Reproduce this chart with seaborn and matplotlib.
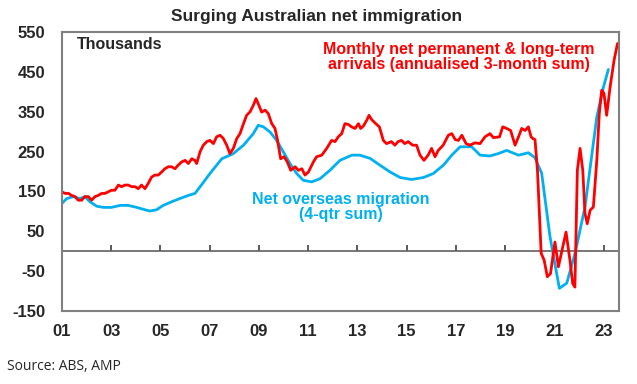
import pandas as pd
import matplotlib.pyplot as plt
import seaborn as sns

# monthly net permanent & long-term arrivals (annualised 3-month sum), thousands
red_year = [2001.0, 2001.13, 2001.27, 2001.39, 2001.53, 2001.66, 2001.8, 2001.93, 2002.07, 2002.2,
            2002.34, 2002.47, 2002.61, 2002.74, 2002.88, 2003.01, 2003.15, 2003.29, 2003.42, 2003.56,
            2003.69, 2003.83, 2003.96, 2004.1, 2004.23, 2004.37, 2004.5, 2004.64, 2004.77, 2004.91,
            2005.05, 2005.18, 2005.32, 2005.45, 2005.59, 2005.72, 2005.86, 2006.0, 2006.13, 2006.27,
            2006.4, 2006.47, 2006.61, 2006.74, 2006.88, 2007.01, 2007.15, 2007.28, 2007.42, 2007.55,
            2007.69, 2007.82, 2007.96, 2008.1, 2008.23, 2008.37, 2008.5, 2008.64, 2008.77, 2008.88,
            2008.97, 2009.11, 2009.25, 2009.38, 2009.52, 2009.65, 2009.74, 2009.88, 2010.02, 2010.15,
            2010.29, 2010.47, 2010.6, 2010.74, 2010.87, 2011.01, 2011.21, 2011.34, 2011.55, 2011.75,
            2011.95, 2012.09, 2012.22, 2012.36, 2012.49, 2012.63, 2012.76, 2012.9, 2013.04, 2013.13,
            2013.24, 2013.38, 2013.47, 2013.58, 2013.71, 2013.89, 2014.05, 2014.18, 2014.38, 2014.52,
            2014.65, 2014.79, 2014.92, 2015.06, 2015.24, 2015.4, 2015.54, 2015.7, 2015.87, 2016.01,
            2016.15, 2016.28, 2016.48, 2016.69, 2016.83, 2016.97, 2017.1, 2017.24, 2017.41, 2017.57,
            2017.77, 2017.98, 2018.18, 2018.38, 2018.52, 2018.77, 2018.9, 2019.06, 2019.22, 2019.4,
            2019.54, 2019.67, 2019.81, 2019.94, 2020.05, 2020.12, 2020.21, 2020.31, 2020.42, 2020.46,
            2020.58, 2020.71, 2020.84, 2021.02, 2021.16, 2021.47, 2021.63, 2021.74, 2021.83, 2021.93,
            2022.04, 2022.15, 2022.24, 2022.33, 2022.45, 2022.58, 2022.72, 2022.82, 2022.92, 2023.01,
            2023.12, 2023.26, 2023.42, 2023.56]
red_vals = [149, 145, 145, 140, 137, 128, 128, 137, 137, 128,
            137, 140, 145, 145, 149, 153, 153, 166, 162, 166,
            166, 162, 162, 157, 166, 157, 170, 186, 191, 191,
            199, 207, 212, 212, 207, 216, 224, 228, 220, 232,
            228, 220, 250, 266, 275, 278, 270, 287, 291, 283,
            266, 245, 258, 283, 295, 320, 341, 350, 366, 383,
            370, 349, 354, 345, 320, 308, 283, 232, 237, 224,
            203, 212, 203, 207, 191, 199, 224, 237, 241, 258,
            278, 275, 287, 295, 320, 318, 312, 308, 320, 308,
            314, 329, 341, 330, 322, 312, 278, 270, 275, 266,
            275, 278, 270, 275, 266, 266, 241, 228, 241, 258,
            237, 253, 266, 291, 295, 280, 278, 291, 270, 266,
            272, 270, 287, 295, 285, 287, 312, 308, 303, 266,
            287, 308, 303, 312, 287, 283, 280, 203, 53, -5,
            -22, -64, -56, 23, -39, 48, -23, -81, -90, 203,
            258, 203, 95, 69, 103, 111, 228, 345, 404, 396,
            341, 412, 479, 521]

# net overseas migration (4-quarter sum), thousands
blue_year = [2001.0, 2001.19, 2001.46, 2001.73, 2001.93, 2002.14, 2002.41, 2002.68, 2003.01, 2003.36,
             2003.69, 2004.03, 2004.37, 2004.57, 2004.84, 2005.11, 2005.45, 2005.78, 2006.13, 2006.4,
             2006.6, 2007.01, 2007.49, 2007.96, 2008.37, 2008.77, 2008.97, 2009.18, 2009.45, 2009.72,
             2009.99, 2010.26, 2010.53, 2010.8, 2011.14, 2011.48, 2011.88, 2012.29, 2012.77, 2013.1,
             2013.51, 2013.91, 2014.32, 2014.73, 2015.2, 2015.68, 2016.08, 2016.49, 2016.83, 2017.17,
             2017.44, 2017.64, 2017.98, 2018.38, 2018.72, 2019.06, 2019.54, 2019.94, 2020.2, 2020.48,
             2020.82, 2021.2, 2021.5, 2021.84, 2022.24, 2022.72, 2022.99, 2023.19]
blue_vals = [120, 132, 137, 132, 137, 124, 113, 110, 110, 115,
             115, 110, 104, 101, 104, 115, 124, 132, 140, 145,
             161, 195, 232, 245, 266, 295, 316, 312, 299, 278,
             249, 220, 195, 178, 174, 182, 203, 228, 241, 241,
             233, 216, 199, 185, 180, 185, 195, 216, 241, 262,
             262, 262, 241, 239, 245, 253, 241, 247, 235, 196,
             36, -93, -80, -4, 111, 337, 412, 456]

x_ticks = list(range(2001, 2024, 2))
x_labels = ["01", "03", "05", "07", "09", "11", "13", "15", "17", "19", "21", "23"]
y_ticks = [550, 450, 350, 250, 150, 50, -50, -150]

red_df = pd.DataFrame({"year": red_year, "value": red_vals})
blue_df = pd.DataFrame({"year": blue_year, "value": blue_vals})

sns.set_style("white")
plt.rcParams['font.family'] = ['Liberation Sans', 'DejaVu Sans']

RED = "#FF0000"
BLUE = "#00B0F0"

fig = plt.figure(figsize=(6.37, 3.84), dpi=100)
ax = fig.add_axes([0.0973, 0.19, 0.8744, 0.7267])

sns.lineplot(data=blue_df, x="year", y="value", color=BLUE, lw=2.0, ax=ax)
sns.lineplot(data=red_df, x="year", y="value", color=RED, lw=2.0, ax=ax)

ax.set_xlim(2001.0, 2023.62)
ax.set_ylim(-150, 550)
ax.set_xticks(x_ticks)
ax.set_xticklabels(x_labels, fontsize=12, fontweight="bold")
ax.set_yticks(y_ticks)
ax.set_yticklabels([str(v) for v in y_ticks], fontsize=12, fontweight="bold")
ax.tick_params(axis="x", length=0, pad=9)
ax.tick_params(axis="y", length=0, pad=12)
ax.set_xlabel("")
ax.set_ylabel("")
for s in ax.spines.values():
    s.set_color("#808080")
    s.set_linewidth(1.5)

# zero line with upward tick marks
zero = ax.secondary_xaxis(150 / 700)
zero.set_xticks(x_ticks)
zero.set_xticklabels([])
zero.tick_params(direction="in", length=4, width=1.2, color="#404040")
zero.spines["bottom"].set_color("#606060")
zero.spines["bottom"].set_linewidth(1.2)

ax.text(0.026, 0.955, "Thousands", transform=ax.transAxes, fontsize=11.5,
        fontweight="bold", va="center", ha="left")
fig.text(459 / 637, 1 - 57 / 384, "Monthly net permanent & long-term\narrivals (annualised 3-month sum)",
         fontsize=11.5, fontweight="bold", color=RED, ha="center", va="center", linespacing=1.0)
fig.text(341 / 637, 1 - 207 / 384, "Net overseas migration\n(4-qtr sum)", fontsize=11.5,
         fontweight="bold", color=BLUE, ha="center", va="center", linespacing=1.0)

fig.text(317 / 637, 1 - 16 / 384, "Surging Australian net immigration", fontsize=12.5,
         fontweight="bold", ha="center", va="center")
fig.text(7 / 637, 1 - 367 / 384, "Source: ABS, AMP", fontsize=10, ha="left", va="center",
         family=["Open Sans", "DejaVu Sans"])

fig.savefig("out.png", dpi=100)
